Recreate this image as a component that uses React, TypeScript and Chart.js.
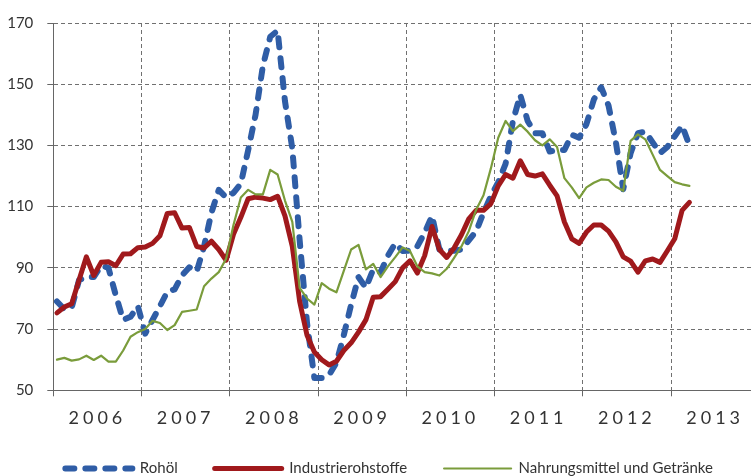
import React, { useEffect, useRef } from "react";
import { Chart, registerables } from "chart.js";

Chart.register(...registerables);

// Monthly index values, Jan 2006 .. Mar 2013
const yearLabels = ["2006", "2007", "2008", "2009", "2010", "2011", "2012", "2013"];

const rohoel = [
  79, 76.5, 77, 86, 87, 87, 90.7, 90, 81, 73, 74, 77.5,
  68.5, 73, 77.5, 82.2, 83, 87.5, 90.2, 88.8, 97, 108, 115.5, 113,
  114.5, 117.5, 128.5, 140, 156, 165.5, 167.5, 144.5, 129, 99, 72, 54,
  54, 55, 59, 68, 78, 87, 83.5, 89.5, 88.5, 94, 98, 95.5,
  95.6, 97, 101.5, 107, 96, 95.5, 95.6, 96, 99, 102, 108, 113.5,
  118, 124, 138, 146.5, 138, 134, 134, 128, 128.5, 128.5, 133.5, 132.5,
  137, 145, 149, 143, 131, 115.7, 127.5, 134, 134.5, 131, 127.5, 129.5,
  133, 136.5, 130,
];

const industrie = [
  75.3, 77.2, 78.3, 86, 93.6, 87.5, 91.8, 92, 90.7, 94.5, 94.6, 96.6,
  96.8, 98, 100.5, 107.8, 108, 103, 103.2, 97, 96.5, 98.7, 96, 92.5,
  101, 106.5, 112.6, 113.1, 112.8, 112.3, 113.4, 107, 97, 79, 68, 62.5,
  60, 58.3, 59.5, 63, 65.5, 69, 73, 80.4, 80.6, 83, 85.5, 90,
  92.3, 88.3, 94, 103.5, 96, 93.4, 96.5, 100.8, 106, 108.8, 108.8, 111,
  116.8, 120.5, 119.3, 125, 120.5, 120, 120.7, 117, 113.5, 105, 99.5, 98,
  101.7, 104, 104, 102, 98.5, 93.6, 92.2, 88.6, 92.3, 92.9, 91.8, 95.6,
  99.5, 108.8, 111.4,
];

const nahrung = [
  60, 60.6, 59.7, 60.1, 61.3, 59.9, 61.3, 59.4, 59.4, 63, 67.5, 69,
  70, 72.7, 72, 69.7, 71.3, 75.6, 76, 76.4, 84, 86.5, 88.6, 93,
  104, 113, 115.5, 114, 114, 122, 120.5, 112, 105, 83.5, 80, 78,
  85, 83.2, 82, 89, 96, 97.5, 89.5, 91.3, 87, 90.5, 93.5, 96.7,
  95.5, 90.5, 88.6, 88.2, 87.5, 89.7, 93.3, 97, 102, 109, 113.7, 122.5,
  132.5, 138, 134.7, 136.8, 134.5, 131.7, 130, 132, 129.5, 119.3, 116.3, 112.8,
  116.3, 117.8, 118.9, 118.7, 116.5, 115.2, 131.5, 133.6, 132, 127, 122, 120,
  118, 117.3, 116.8,
];

const seriesNames = ["Rohöl", "Industrierohstoffe", "Nahrungsmittel und Getränke"];

const toPoints = (arr: number[]) => arr.map((v, i) => ({ x: i, y: v }));

const yearLabelPlugin = {
  id: "yearLabels",
  afterDraw(chart: any) {
    const xs = chart.scales.x;
    const ctx = chart.ctx as CanvasRenderingContext2D;
    ctx.save();
    ctx.font = "18px Lato";
    ctx.fillStyle = "#333333";
    ctx.textAlign = "center";
    ctx.textBaseline = "middle";
    (ctx as any).letterSpacing = "4px";
    yearLabels.forEach((label, k) => {
      const x = xs.getPixelForValue(12 * k + 5.5);
      ctx.fillText(label, x, chart.chartArea.bottom + 28);
    });
    ctx.restore();
  },
};

const gridOpts = {
  color: "#707070",
  lineWidth: 1,
  tickLength: 6,
  tickBorderDash: [],
  tickColor: "#666666",
};
const borderOpts = { display: true, color: "#666666", width: 1, dash: [4, 3] };

export default function App() {
  const ref = useRef<HTMLCanvasElement>(null);

  useEffect(() => {
    if (!ref.current) return;
    Chart.defaults.font.family = "Lato";
    const chart = new Chart(ref.current, {
      type: "line",
      data: {
        datasets: [
          {
            label: seriesNames[0],
            data: toPoints(rohoel),
            borderColor: "#2F5DA6",
            backgroundColor: "#2F5DA6",
            borderWidth: 6,
            borderDash: [9, 11],
            borderCapStyle: "round",
            borderJoinStyle: "round",
            pointRadius: 0,
            tension: 0,
            order: 2,
          },
          {
            label: seriesNames[1],
            data: toPoints(industrie),
            borderColor: "#A0191C",
            backgroundColor: "#A0191C",
            borderWidth: 5,
            borderCapStyle: "round",
            borderJoinStyle: "round",
            pointRadius: 0,
            tension: 0,
            order: 1,
          },
          {
            label: seriesNames[2],
            data: toPoints(nahrung),
            borderColor: "#7A9C3B",
            backgroundColor: "#7A9C3B",
            borderWidth: 2.2,
            borderCapStyle: "round",
            borderJoinStyle: "round",
            pointRadius: 0,
            tension: 0,
            order: 0,
          },
        ],
      },
      options: {
        animation: false,
        responsive: false,
        maintainAspectRatio: false,
        layout: { padding: { left: 4, right: 0.7, top: 13.3, bottom: 0 } },
        plugins: {
          tooltip: { enabled: false },
          legend: {
            position: "bottom",
            labels: {
              usePointStyle: true,
              pointStyle: "line",
              pointStyleWidth: 67,
              padding: 37,
              color: "#333333",
              font: { size: 15, family: "Lato" },
              generateLabels: (ch: any) =>
                ch.data.datasets.map((ds: any, i: number) => ({
                  text: ds.label,
                  fillStyle: ds.borderColor,
                  strokeStyle: ds.borderColor,
                  lineWidth: ds.borderWidth,
                  lineDash: ds.borderDash || [],
                  lineCap: "round",
                  pointStyle: "line",
                  hidden: false,
                  datasetIndex: i,
                  fontColor: "#333333",
                })),
            },
          },
        },
        scales: {
          x: {
            type: "linear",
            min: -0.5,
            max: 97.54,
            afterBuildTicks: (scale: any) => {
              const t = [];
              for (let k = 0; k <= yearLabels.length; k++) t.push({ value: 12 * k - 0.5 });
              scale.ticks = t;
            },
            afterFit: (scale: any) => {
              scale.height = 33.7;
            },
            ticks: { display: false },
            grid: gridOpts,
            border: borderOpts,
          },
          y: {
            min: 50,
            max: 170,
            afterFit: (scale: any) => {
              scale.width = 49.3;
            },
            ticks: {
              stepSize: 20,
              padding: 14,
              color: "#333333",
              font: { size: 15, family: "Lato" },
            },
            grid: gridOpts,
            border: borderOpts,
          },
        },
      },
      plugins: [yearLabelPlugin],
    } as any);
    return () => chart.destroy();
  }, []);

  return (
    <div
      style={{
        position: "absolute",
        left: 0,
        top: 0,
        width: 751,
        height: 476,
        overflow: "hidden",
        background: "#ffffff",
      }}
    >
      <canvas
        ref={ref}
        width={775}
        height={486}
        style={{ width: 775, height: 486, display: "block" }}
      />
    </div>
  );
}
